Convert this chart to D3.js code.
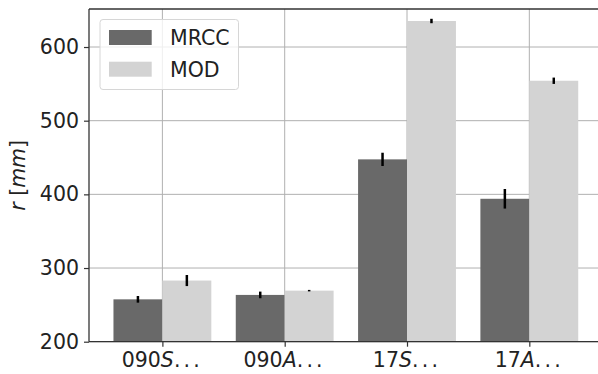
<!DOCTYPE html>
<html>
<head>
<meta charset="utf-8">
<script src="https://cdn.jsdelivr.net/npm/d3@7"></script>
<style>
  body { margin: 0; background: #fff; }
  svg { font-family: "DejaVu Sans", sans-serif; }
</style>
</head>
<body>
<svg width="598" height="374"></svg>
<script>
const catNums = ["090", "090", "17", "17"]
const catLetters = ["S", "A", "S", "A"]
const series = ["MRCC", "MOD"]
const mrcc = [257.5, 263.5, 447.5, 394]
const mrccErr = [4.5, 4.5, 9, 13.3]
const mod = [283, 269.3, 635.3, 554.2]
const modErr = [7.5, 1, 3, 4.3]
const yTicks = [200, 300, 400, 500, 600]

const colors = { MRCC: "#696969", MOD: "#d3d3d3" }

const svg = d3.select("svg")
const plotL = 89, plotT = 9, plotB = 341.7, plotR = 602.7

const x = d3.scaleLinear().domain([-0.6, 3.6]).range([plotL, plotR])
const y = d3.scaleLinear().domain([200, 651.6]).range([plotB, plotT])
const barW = x(0.4) - x(0)

// grid
svg.append("g").selectAll("line")
  .data(yTicks).join("line")
    .attr("x1", plotL).attr("x2", plotR)
    .attr("y1", d => y(d)).attr("y2", d => y(d))
    .attr("stroke", "#b0b0b0").attr("stroke-width", 1)
svg.append("g").selectAll("line")
  .data(d3.range(catNums.length)).join("line")
    .attr("x1", d => x(d)).attr("x2", d => x(d))
    .attr("y1", plotT).attr("y2", plotB)
    .attr("stroke", "#b0b0b0").attr("stroke-width", 1)

const rows = [
  { name: "MRCC", vals: mrcc, errs: mrccErr, off: -0.4 },
  { name: "MOD", vals: mod, errs: modErr, off: 0 }
]

rows.forEach(r => {
  svg.append("g").selectAll("rect")
    .data(r.vals).join("rect")
      .attr("x", (d, i) => x(i + r.off))
      .attr("width", barW)
      .attr("y", d => y(d))
      .attr("height", d => y(200) - y(d))
      .attr("fill", colors[r.name])
  svg.append("g").selectAll("line")
    .data(r.vals).join("line")
      .attr("x1", (d, i) => x(i + r.off + 0.2))
      .attr("x2", (d, i) => x(i + r.off + 0.2))
      .attr("y1", (d, i) => y(d - r.errs[i]))
      .attr("y2", (d, i) => y(d + r.errs[i]))
      .attr("stroke", "#000").attr("stroke-width", 2.5)
})

// spines
svg.append("line").attr("x1", plotL).attr("x2", plotL).attr("y1", plotT).attr("y2", plotB)
  .attr("stroke", "#333").attr("stroke-width", 1.3)
svg.append("line").attr("x1", plotL).attr("x2", plotR).attr("y1", plotB).attr("y2", plotB)
  .attr("stroke", "#333").attr("stroke-width", 1.3)
svg.append("line").attr("x1", plotL).attr("x2", plotR).attr("y1", plotT).attr("y2", plotT)
  .attr("stroke", "#333").attr("stroke-width", 1.3)

// y axis
const yAxis = svg.append("g").attr("transform", `translate(${plotL},0)`)
  .call(d3.axisLeft(y).tickValues(yTicks).tickSize(5).tickPadding(5))
yAxis.select(".domain").remove()
yAxis.selectAll("line").attr("stroke", "#333").attr("stroke-width", 1.2)
yAxis.selectAll("text").attr("font-size", 20.5).attr("fill", "#222")
  .attr("font-family", "DejaVu Sans")

// x axis
const xAxis = svg.append("g").attr("transform", `translate(0,${plotB})`)
  .call(d3.axisBottom(x).tickValues(d3.range(catNums.length)).tickSize(5).tickFormat(""))
xAxis.select(".domain").remove()
xAxis.selectAll("line").attr("stroke", "#333").attr("stroke-width", 1.2)

const xl = svg.append("g").selectAll("text")
  .data(catNums).join("text")
    .attr("x", (d, i) => x(i))
    .attr("y", 366.5)
    .attr("text-anchor", "middle")
    .attr("font-size", 20.5).attr("fill", "#222")
xl.append("tspan").text(d => d)
xl.append("tspan").attr("font-style", "italic").text((d, i) => catLetters[i])
xl.append("tspan").attr("letter-spacing", 3.2).text("...")

// y label
svg.append("text")
  .attr("transform", `translate(25,${(plotT + plotB) / 2}) rotate(-90)`)
  .attr("text-anchor", "middle")
  .attr("font-size", 20.5).attr("fill", "#222")
  .call(t => {
    t.append("tspan").attr("font-style", "italic").text("r")
    t.append("tspan").text(" [")
    t.append("tspan").attr("font-style", "italic").text("mm")
    t.append("tspan").text("]")
  })

// legend
const lg = svg.append("g")
lg.append("rect").attr("x", 100).attr("y", 19.5).attr("width", 138.5).attr("height", 70)
  .attr("rx", 3).attr("fill", "#fff").attr("fill-opacity", 0.8)
  .attr("stroke", "#d6d6d6").attr("stroke-width", 1)
series.forEach((s, i) => {
  lg.append("rect").attr("x", 109).attr("y", 30 + i * 31.7).attr("width", 42.7).attr("height", 15)
    .attr("fill", colors[s])
  lg.append("text").attr("x", 170).attr("y", 45 + i * 31.7)
    .attr("font-size", 20.5).attr("fill", "#222").text(s)
})
</script>
</body>
</html>
